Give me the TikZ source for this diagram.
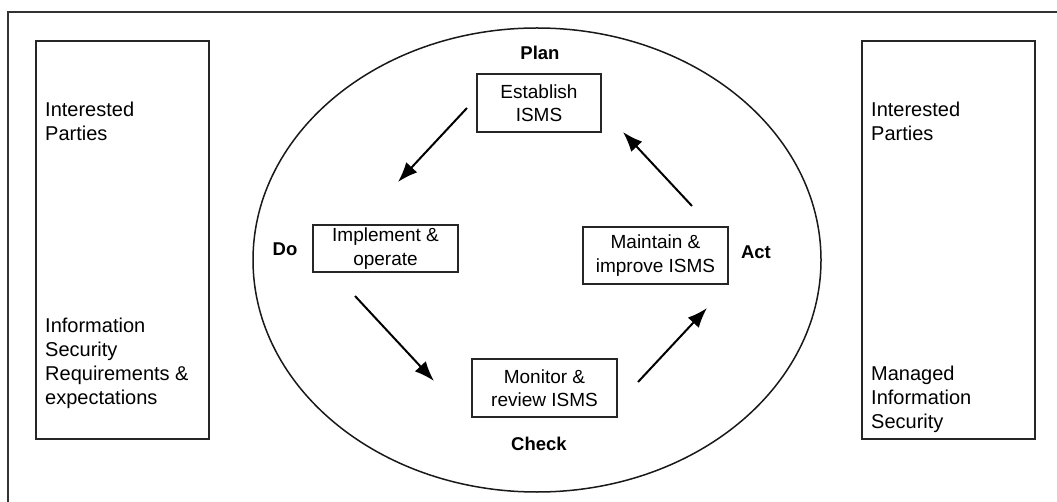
\documentclass[tikz,border=0pt]{standalone}
\usepackage{fontspec}
\setmainfont{Liberation Sans}
\usetikzlibrary{arrows.meta}
\begin{document}
\begin{tikzpicture}[x=1pt,y=-1pt,
  sidebox/.style={draw=black!85,line width=1.4pt,inner sep=0pt},
  sidetext/.style={font=\fontsize{20}{24}\selectfont,align=left,anchor=north west,inner sep=0pt},
  stepbox/.style={draw=black!85,line width=1.4pt,font=\fontsize{19}{23.5}\selectfont,align=center,inner sep=0pt},
  phase/.style={font=\fontsize{18.5}{21}\selectfont\bfseries,inner sep=0pt},
  flow/.style={line width=2pt,-{Latex[length=20pt,width=15pt]}}]
\useasboundingbox (0,0) rectangle (1057,502);
\fill[white] (0,0) rectangle (1057,502);
% outer frame (cropped)
\draw[black!80,line width=1.8pt] (8,502) -- (8,12) -- (1057,12);
% side boxes
\node[sidebox,minimum width=173pt,minimum height=398pt] (lbox) at (122.5,240) {};
\node[sidebox,minimum width=173pt,minimum height=398pt] (rbox) at (948.5,240) {};
\node[sidetext] (lt1) at (45,102) {Interested\\Parties};
\node[sidetext] (lt2) at (45,318) {Information\\Security\\Requirements \&\\expectations};
\node[sidetext] (rt1) at (871,102) {Interested\\Parties};
\node[sidetext] (rt2) at (871,366) {Managed\\Information\\Security};
% ellipse
\draw[black!90,line width=1.5pt] (537,260) ellipse [x radius=284, y radius=232];
\node[draw=none,minimum width=568pt,minimum height=464pt] (cycle) at (537,260) {};
% phase labels
\node[phase] (plan) at (540,53) {Plan};
\node[phase] (do) at (285,249) {Do};
\node[phase] (act) at (756,252) {Act};
\node[phase] (check) at (539,444) {Check};
% step boxes
\node[stepbox,minimum width=124pt,minimum height=58pt] (est) at (539,103) {Establish\\ISMS};
\node[stepbox,minimum width=145pt,minimum height=47pt] (imp) at (385.5,248.5) {Implement \&\\operate};
\node[stepbox,minimum width=145pt,minimum height=57pt] (mai) at (655.5,255.5) {Maintain \&\\improve ISMS};
\node[stepbox,minimum width=145pt,minimum height=58pt] (mon) at (544.5,388) {Monitor \&\\review ISMS};
% arrow end points
\coordinate (a1s) at (467,108); \coordinate (a1e) at (398,182);
\coordinate (a2s) at (355,296); \coordinate (a2e) at (434,381);
\coordinate (a3s) at (638,382); \coordinate (a3e) at (707,308);
\coordinate (a4s) at (692,206); \coordinate (a4e) at (623,132);
\draw[flow] (a1s) -- (a1e);
\draw[flow] (a2s) -- (a2e);
\draw[flow] (a3s) -- (a3e);
\draw[flow] (a4s) -- (a4e);
\end{tikzpicture}
\end{document}
